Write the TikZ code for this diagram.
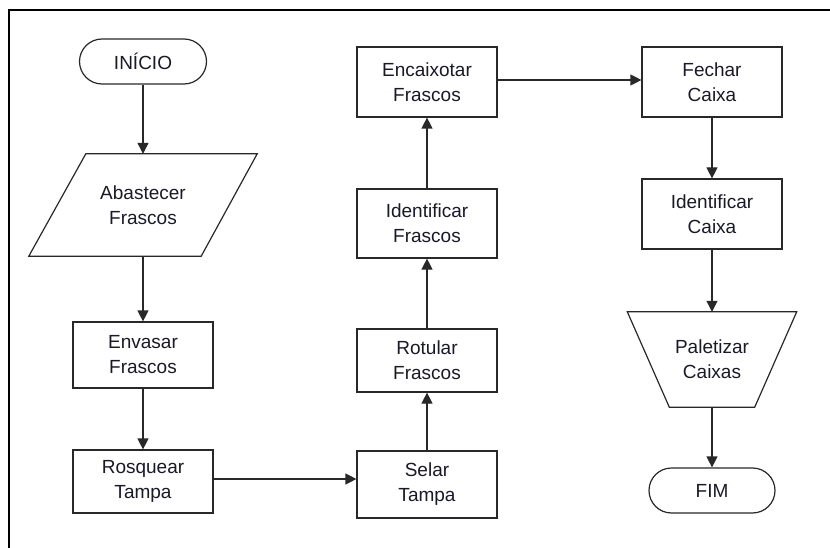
\documentclass[tikz,border=0pt]{standalone}
\usepackage{fontspec}
\setmainfont{Liberation Sans}
\usetikzlibrary{arrows.meta,calc}
\definecolor{linec}{RGB}{40,40,40}
\definecolor{textc}{RGB}{25,25,40}
\begin{document}
\begin{tikzpicture}[x=1pt,y=-1pt,
  lbl/.style={inner sep=0pt, align=center, text=textc, font=\fontsize{19}{25}\selectfont},
  box/.style={lbl, draw=linec, line width=1.2pt, fill=white, minimum width=140pt, minimum height=#1},
  box/.default=70pt,
  term/.style={lbl, draw=linec, line width=1.2pt, fill=white, minimum width=127pt, minimum height=45pt, rounded corners=22.5pt},
  ghost/.style={lbl, minimum width=#1},
  outline/.style={draw=linec, line width=1.2pt},
  arr/.style={draw=linec, line width=1.2pt, -{Triangle[length=11pt,width=11pt]}}
]
\useasboundingbox (0,0) rectangle (830,548);
\draw[line width=2pt, black] (840,10) -- (9,10) -- (9,560);

% left column
\node[term] (inicio) at (143,61.5) {INÍCIO};
\node[ghost=228pt, minimum height=102pt] (abast) at (143,205) {Abastecer\\Frascos};
\draw[outline] ([xshift=57pt]abast.north west) -- (abast.north east)
  -- ([xshift=-56pt]abast.south east) -- (abast.south west) -- cycle;
\node[box=66pt] (envasar) at (143,355) {Envasar\\Frascos};
\node[box=63pt] (rosquear) at (143,481.5) {Rosquear\\Tampa};

% middle column
\node[box=67pt] (selar) at (427,484.5) {Selar\\Tampa};
\node[box=63pt] (rotular) at (427,360.5) {Rotular\\Frascos};
\node[box=69pt] (identf) at (427,223.5) {Identificar\\Frascos};
\node[box=70pt] (encaix) at (427,82) {Encaixotar\\Frascos};

% right column
\node[box=70pt] (fechar) at (712,82) {Fechar\\Caixa};
\node[box=70pt] (identc) at (712,214) {Identificar\\Caixa};
\node[ghost=169pt, minimum height=95pt] (palet) at (712,359.5) {Paletizar\\Caixas};
\draw[outline] (palet.north west) -- (palet.north east)
  -- ([xshift=-42pt]palet.south east) -- ([xshift=42pt]palet.south west) -- cycle;
\node[term, minimum width=126pt] (fim) at (712,490.5) {FIM};

% connectors
\draw[arr] (inicio) -- (abast);
\draw[arr] (abast) -- (envasar);
\draw[arr] (envasar) -- (rosquear);
\draw[arr] ([yshift=2.5pt]rosquear.east) -- ([yshift=2.5pt]rosquear.east -| selar.west);
\draw[arr] (selar) -- (rotular);
\draw[arr] (rotular) -- (identf);
\draw[arr] (identf) -- (encaix);
\draw[arr] ([yshift=2pt]encaix.east) -- ([yshift=2pt]encaix.east -| fechar.west);
\draw[arr] (fechar) -- (identc);
\draw[arr] (identc) -- (palet);
\draw[arr] (palet) -- (fim);
\end{tikzpicture}
\end{document}
